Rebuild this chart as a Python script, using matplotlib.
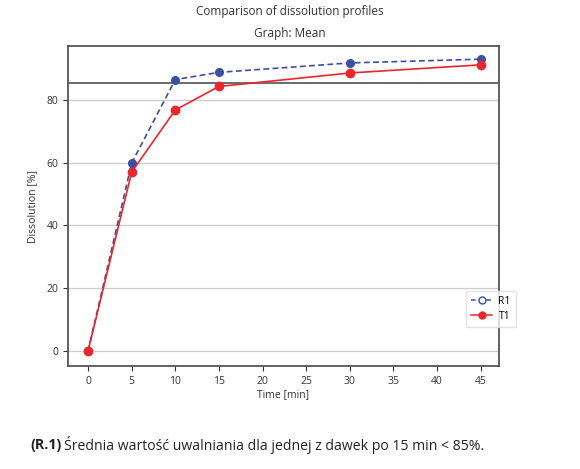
import matplotlib.pyplot as plt
from matplotlib.lines import Line2D

time_min = [0, 5, 10, 15, 30, 45]
r1_values = [0, 59.9, 86.5, 88.8, 91.8, 93.0]
t1_values = [0, 57.0, 76.8, 84.3, 88.6, 91.2]
limit = 85.3
x_ticks = [0, 5, 10, 15, 20, 25, 30, 35, 40, 45]
y_ticks = [0, 20, 40, 60, 80]

blue = '#3d4ea6'
red = '#e8262b'

plt.rcParams['font.family'] = ['Open Sans', 'DejaVu Sans']

fig = plt.figure(figsize=(5.8, 4.69), dpi=100)
ax = fig.add_axes([68 / 580, 1 - 366 / 469, 431 / 580, 320 / 469])

ax.plot(time_min, r1_values, color=blue, linestyle=(0, (3.5, 2)), linewidth=1.2,
        marker='o', markersize=5.5, zorder=3)
ax.plot(time_min, t1_values, color=red, linestyle='-', linewidth=1.2,
        marker='o', markersize=6, zorder=3)
ax.axhline(limit, color='#444444', linewidth=1.1, zorder=2)

ax.set_xlim(-2.3, 47.1)
ax.set_ylim(-4.8, 97.2)
ax.set_xticks(x_ticks)
ax.set_yticks(y_ticks)
ax.yaxis.grid(True, color='#cccccc', linewidth=1.0)
ax.set_axisbelow(True)
for s in ax.spines.values():
    s.set_color('#555555')
    s.set_linewidth(1.3)
ax.tick_params(labelsize=7.5, colors='#333333', length=3.5)

ax.set_xlabel('Time [min]', fontsize=7.5, color='#333333', labelpad=2)
ax.set_ylabel('Dissolution [%]', fontsize=7.5, color='#333333', labelpad=6)

fig.text(0.5, 1 - 11 / 469, 'Comparison of dissolution profiles', ha='center',
         va='center', fontsize=8.5, color='#333333')
fig.text(0.5, 1 - 34 / 469, 'Graph: Mean', ha='center', va='center',
         fontsize=8.5, color='#333333')

handles = [
    Line2D([], [], color=blue, linestyle=(0, (3, 2)), marker='o', markersize=5,
           linewidth=1.1, markerfacecolor='white', markeredgecolor=blue),
    Line2D([], [], color=red, linestyle='-', marker='o', markersize=5, linewidth=1.1),
]
fig.legend(handles, ['R1', 'T1'], loc='center left',
           bbox_to_anchor=(461 / 580, 1 - 309 / 469), fontsize=7.5,
           frameon=True, edgecolor='#dddddd', handlelength=2.0,
           handletextpad=0.6, borderpad=0.5, labelspacing=0.4)

cap_y = 1 - 445 / 469
t = fig.text(30 / 580, cap_y, '(R.1)', ha='left', va='center', fontsize=10.3,
             fontweight='bold', color='#222222')
fig.canvas.draw()
bb = t.get_window_extent()
fig.text(bb.x1 / fig.bbox.width + 0.005, cap_y,
         'Średnia wartość uwalniania dla jednej z dawek po 15 min < 85%.',
         ha='left', va='center', fontsize=10.1, color='#222222')

fig.savefig('out.png', dpi=100, facecolor='white')
